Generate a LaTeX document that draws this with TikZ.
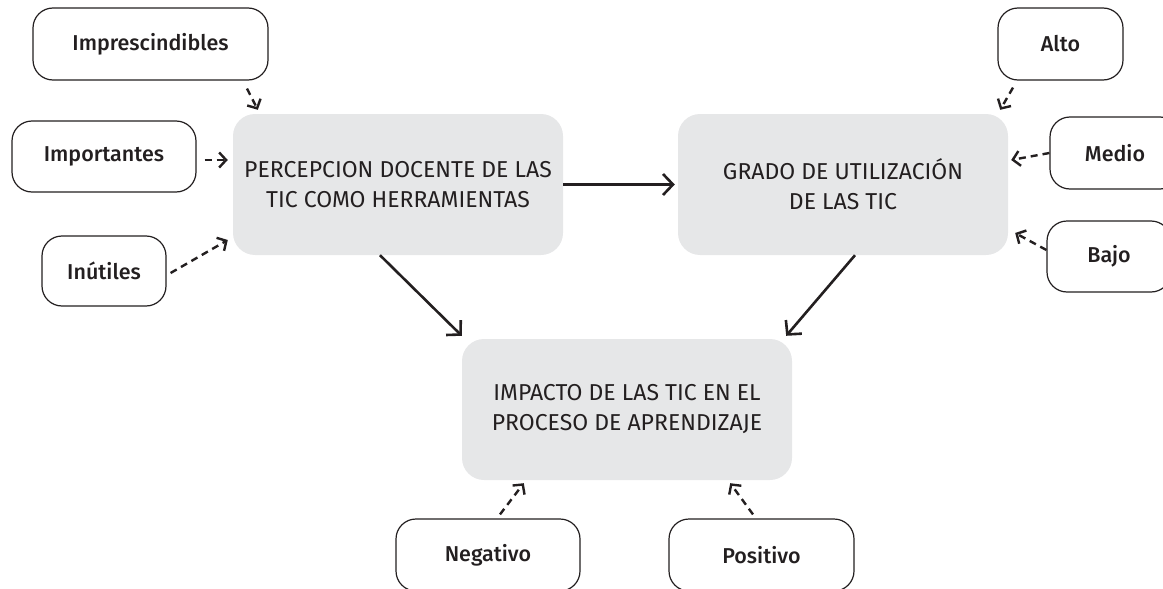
\documentclass[tikz,border=0pt]{standalone}
\usepackage{fontspec}
\setmainfont{Fira Sans}
\newfontfamily\labelfont{Fira Sans Medium}
\usetikzlibrary{arrows.meta,calc}
\definecolor{corefill}{HTML}{E6E7E8}
\definecolor{ink}{HTML}{231F20}
\begin{document}
\begin{tikzpicture}[x=1pt,y=-1pt,
  outer/.style={draw=ink, line width=1.2pt, rounded corners=20pt, fill=white, text=ink,
    font=\labelfont\fontsize{21.5}{24}\selectfont, inner sep=0pt},
  core/.style={fill=corefill, rounded corners=22pt, align=center, text=ink,
    font=\fontsize{23}{30}\selectfont, inner sep=0pt, minimum width=330pt, minimum height=141pt},
  darr/.style={draw=ink, line width=2.4pt, dash pattern=on 7pt off 5pt, -{Straight Barb[length=7pt,width=15pt]}},
  sarr/.style={draw=ink, line width=2.6pt, -{Straight Barb[length=10pt,width=21pt]}}]
\useasboundingbox (0,0) rectangle (1163,589);
% core nodes
\node[core] (perc) at (398,184.5) {PERCEPCION DOCENTE DE LAS\\TIC COMO HERRAMIENTAS};
\node[core] (grado) at (843,184.5) {GRADO DE UTILIZACIÓN\\DE LAS TIC};
\node[core] (impact) at (627,409.5) {IMPACTO DE LAS TIC EN EL\\PROCESO DE APRENDIZAJE};
% outer nodes
\node[outer, minimum width=235pt, minimum height=72pt] (imp) at (150.5,44) {Imprescindibles};
\node[outer, minimum width=184pt, minimum height=71pt] (impor) at (104,156.5) {Importantes};
\node[outer, minimum width=124pt, minimum height=70pt] (inut) at (104,271) {Inútiles};
\node[outer, minimum width=125pt, minimum height=72pt] (alto) at (1060.5,44) {Alto};
\node[outer, minimum width=130pt, minimum height=72pt] (medio) at (1115,153) {Medio};
\node[outer, minimum width=124pt, minimum height=71pt] (bajo) at (1109,256.5) {Bajo};
\node[outer, minimum width=184pt, minimum height=72pt] (neg) at (488,555) {Negativo};
\node[outer, minimum width=185pt, minimum height=72pt] (pos) at (761.5,555) {Positivo};
% solid connectors
\draw[sarr] ($(perc.east)+(0,0)$) -- ($(grado.west)+(-3,0)$);
\draw[sarr] ($(perc.south)+(-18,0)$) -- ($(impact.north west)+(0,-3)$);
\draw[sarr] ($(grado.south)+(12,0)$) -- ($(impact.north east)+(-6,-3)$);
% dashed connectors
\draw[darr] ($(imp.south)+(96.5,8)$) -- ($(perc.north west)+(25,-4)$);
\draw[darr] ($(impor.east)+(8,3.5)$) -- ($(perc.west)+(-5,-24.5)$);
\draw[darr] ($(inut.east)+(4,2)$) -- ($(perc.west)+(-5,55.5)$);
\draw[darr] ($(alto.south)+(-47.5,7)$) -- ($(grado.north east)+(-8,-4)$);
\draw[darr] (medio.west) -- ($(grado.east)+(3,-24.5)$);
\draw[darr] ($(bajo.west)+(0,-6.5)$) -- ($(grado.east)+(7,48.5)$);
\draw[darr] ($(neg.north)+(12,-4)$) -- ($(impact.south west)+(62,3)$);
\draw[darr] ($(pos.north)+(-8.5,-4)$) -- ($(impact.south east)+(-62,3)$);
\end{tikzpicture}
\end{document}
